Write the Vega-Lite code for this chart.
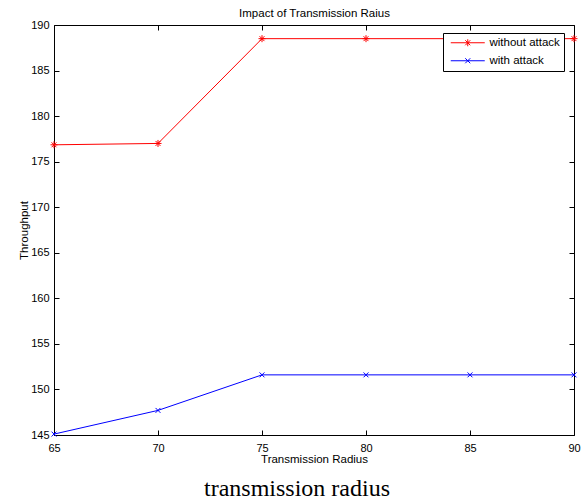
{
  "$schema": "https://vega.github.io/schema/vega-lite/v6.json",
  "width": 520,
  "height": 410,
  "autosize": {"type": "none"},
  "padding": {"left": 54, "top": 25, "right": 13, "bottom": 67},
  "background": "white",
  "config": {
    "view": {"stroke": null},
    "font": "Liberation Sans",
    "axis": {
      "domainColor": "black",
      "domainWidth": 1,
      "tickColor": "black",
      "tickWidth": 1,
      "tickSize": -5,
      "labelColor": "black",
      "labelFont": "Liberation Sans",
      "labelFontSize": 11,
      "titleFont": "Liberation Sans",
      "titleFontSize": 11.5,
      "titleFontWeight": "normal",
      "titleColor": "black",
      "grid": false,
      "labelFlush": false,
      "labelOverlap": false
    },
    "legend": {
      "orient": "none",
      "legendX": 389,
      "legendY": 8,
      "strokeColor": "black",
      "fillColor": "white",
      "padding": 4,
      "labelFont": "Liberation Sans",
      "labelFontSize": 11.5,
      "labelColor": "black",
      "symbolSize": 100,
      "symbolStrokeWidth": 1,
      "symbolFillColor": "transparent",
      "labelOffset": 31,
      "rowPadding": 5
    }
  },
  "title": {
    "text": "transmission radius",
    "orient": "bottom",
    "font": "Liberation Serif",
    "fontSize": 24,
    "fontWeight": "normal",
    "color": "black",
    "dx": -17,
    "offset": 12
  },
  "data": {
    "values": [
      {"radius": 65, "throughput": 176.85, "series": "without attack"},
      {"radius": 70, "throughput": 177.0, "series": "without attack"},
      {"radius": 75, "throughput": 188.5, "series": "without attack"},
      {"radius": 80, "throughput": 188.5, "series": "without attack"},
      {"radius": 85, "throughput": 188.5, "series": "without attack"},
      {"radius": 90, "throughput": 188.5, "series": "without attack"},
      {"radius": 65, "throughput": 145.1, "series": "with attack"},
      {"radius": 70, "throughput": 147.7, "series": "with attack"},
      {"radius": 75, "throughput": 151.6, "series": "with attack"},
      {"radius": 80, "throughput": 151.6, "series": "with attack"},
      {"radius": 85, "throughput": 151.6, "series": "with attack"},
      {"radius": 90, "throughput": 151.6, "series": "with attack"}
    ]
  },
  "layer": [
    {
      "mark": {"type": "line", "strokeWidth": 1, "clip": false},
      "encoding": {
        "x": {
          "field": "radius",
          "type": "quantitative",
          "scale": {"domain": [65, 90], "nice": false, "zero": false},
          "axis": {
            "orient": "bottom",
            "title": "Transmission Radius",
            "values": [65, 70, 75, 80, 85, 90],
            "labelPadding": 12,
            "titlePadding": 0
          }
        },
        "y": {
          "field": "throughput",
          "type": "quantitative",
          "scale": {"domain": [145, 190], "nice": false, "zero": false},
          "axis": {
            "orient": "left",
            "title": "Throughput",
            "values": [145, 150, 155, 160, 165, 170, 175, 180, 185, 190],
            "labelPadding": 10,
            "titlePadding": 1
          }
        },
        "color": {
          "field": "series",
          "type": "nominal",
          "scale": {"domain": ["without attack", "with attack"], "range": ["#ff0000", "#0000ff"]},
          "legend": {
            "title": null,
            "encode": {
              "symbols": {
                "update": {
                  "shape": {"signal": "datum.value === 'with attack' ? 'M-0.4,0L6.4,0M2.5,-0.5L3.5,0.5M2.5,0.5L3.5,-0.5' : 'M-0.4,0L6.4,0M3,-0.7L3,0.7M2.5,-0.5L3.5,0.5M2.5,0.5L3.5,-0.5'"}
                }
              }
            }
          }
        }
      }
    },
    {
      "transform": [{"filter": "datum.series === 'without attack'"}],
      "mark": {"type": "point", "filled": false, "strokeWidth": 1, "size": 49, "opacity": 1, "clip": false, "shape": "M-1,0L1,0M0,-1L0,1M-0.7,-0.7L0.7,0.7M-0.7,0.7L0.7,-0.7"},
      "encoding": {
        "x": {
          "field": "radius",
          "type": "quantitative",
          "scale": {"domain": [65, 90], "nice": false, "zero": false},
          "axis": {
            "orient": "top",
            "labels": false,
            "title": "Impact of Transmission Raius",
            "values": [65, 70, 75, 80, 85, 90],
            "titlePadding": 6
          }
        },
        "y": {
          "field": "throughput",
          "type": "quantitative",
          "scale": {"domain": [145, 190], "nice": false, "zero": false},
          "axis": {
            "orient": "right",
            "labels": false,
            "title": null,
            "values": [145, 150, 155, 160, 165, 170, 175, 180, 185, 190]
          }
        },
        "color": {
          "field": "series",
          "type": "nominal",
          "scale": {"domain": ["without attack", "with attack"], "range": ["#ff0000", "#0000ff"]}
        }
      }
    },
    {
      "transform": [{"filter": "datum.series === 'with attack'"}],
      "mark": {"type": "point", "filled": false, "strokeWidth": 1, "size": 49, "opacity": 1, "clip": false, "shape": "M-0.7,-0.7L0.7,0.7M-0.7,0.7L0.7,-0.7"},
      "encoding": {
        "x": {
          "field": "radius",
          "type": "quantitative",
          "scale": {"domain": [65, 90], "nice": false, "zero": false},
          "axis": null
        },
        "y": {
          "field": "throughput",
          "type": "quantitative",
          "scale": {"domain": [145, 190], "nice": false, "zero": false},
          "axis": null
        },
        "color": {
          "field": "series",
          "type": "nominal",
          "scale": {"domain": ["without attack", "with attack"], "range": ["#ff0000", "#0000ff"]}
        }
      }
    }
  ],
  "resolve": {"axis": {"x": "independent", "y": "independent"}}
}
